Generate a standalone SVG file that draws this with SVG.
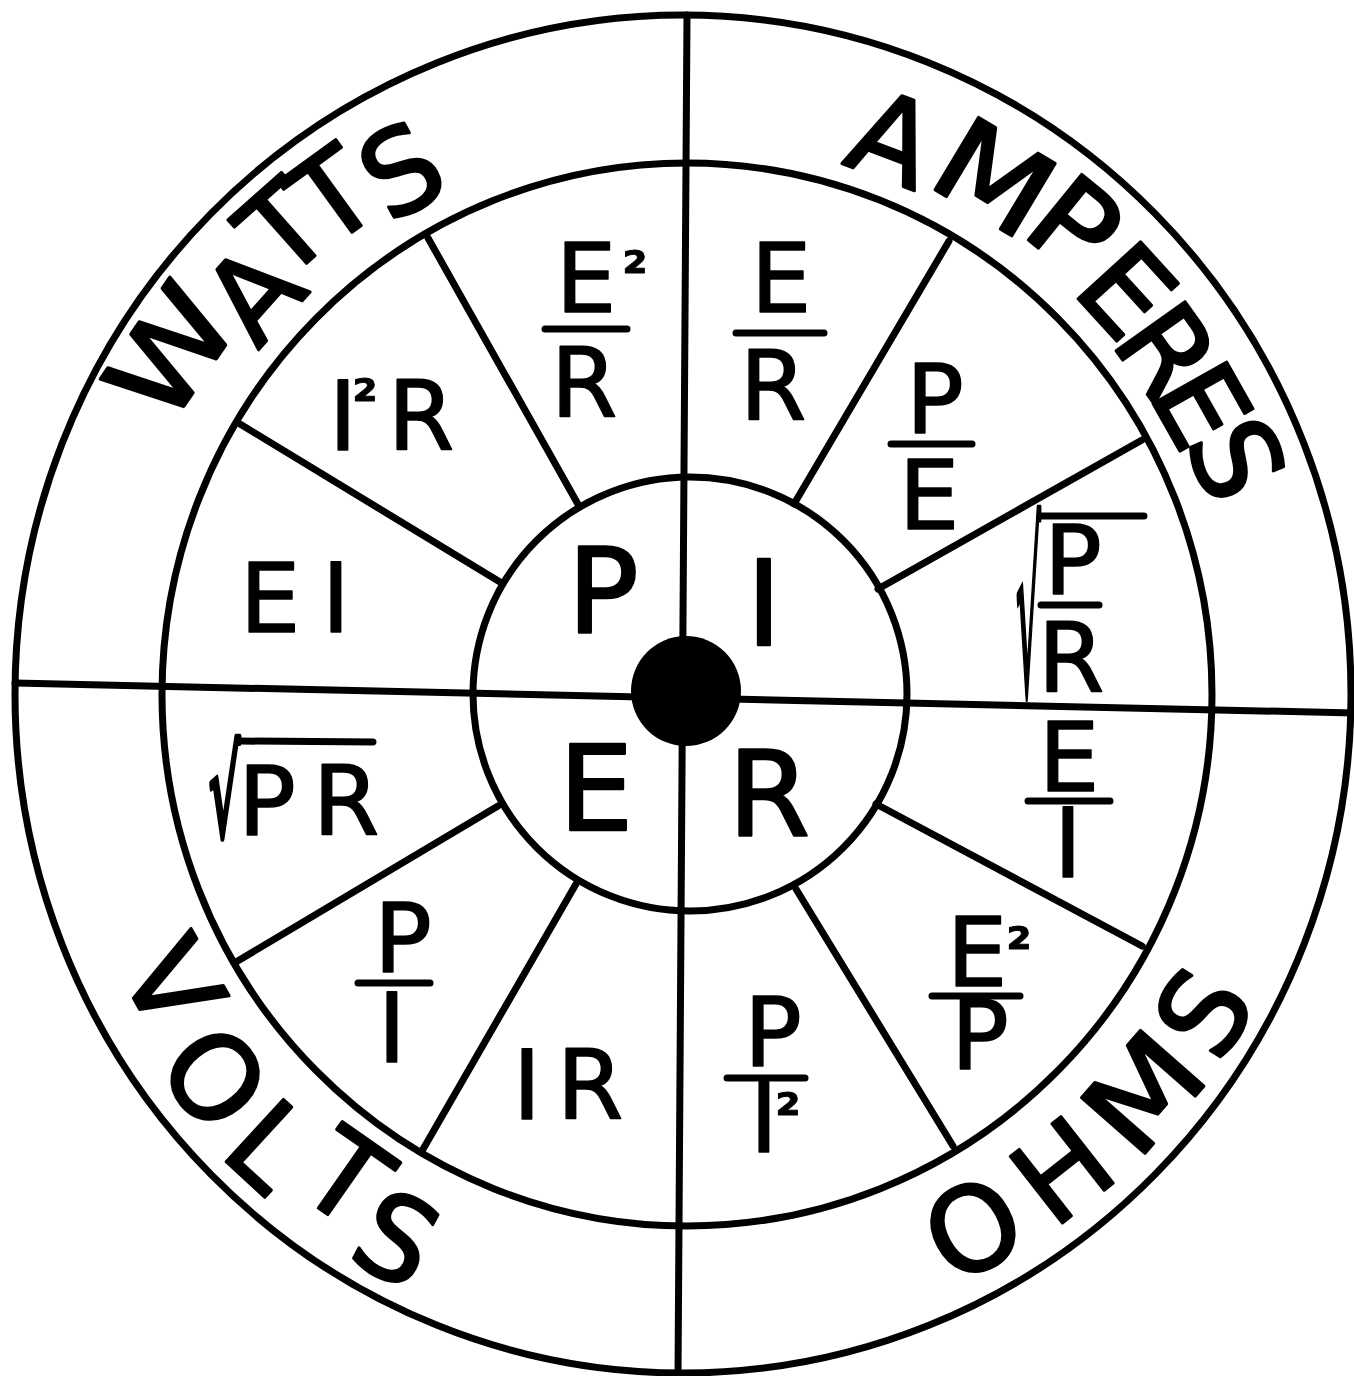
<svg xmlns="http://www.w3.org/2000/svg" width="1354" height="1376" viewBox="0 0 1354 1376">
<style>
.ln{fill:none;stroke:#000;stroke-width:7;stroke-linecap:round;stroke-linejoin:round}
.br{stroke:#000;stroke-width:7;stroke-linecap:round}
text{font-family:"DejaVu Sans","Liberation Sans",sans-serif;fill:#000;stroke:#000;stroke-linejoin:round}
.c{font-size:118px;text-anchor:middle;stroke-width:2.5px}
.m{font-size:96px;text-anchor:middle;stroke-width:1.5px}
.r{font-size:116px;text-anchor:middle;stroke-width:3px}
.s{font-size:58px;font-weight:bold;stroke-width:1px}
.rad{stroke-width:5px;vector-effect:non-scaling-stroke}
</style>
<rect width="1354" height="1376" fill="#fff"/>
<g id="rings">
<ellipse class="ln" cx="683" cy="694" rx="668" ry="679"/>
<ellipse class="ln" cx="687" cy="694.5" rx="525" ry="531.5"/>
<ellipse class="ln" cx="690" cy="694" rx="217" ry="217"/>
</g>
<g id="connectors">
<line class="ln" x1="687" y1="15" x2="678" y2="1376"/>
<line class="ln" x1="15" y1="683" x2="1354" y2="713"/>
<line class="ln" x1="428" y1="238" x2="579" y2="506"/>
<line class="ln" x1="240" y1="424" x2="500" y2="582"/>
<line class="ln" x1="949" y1="241" x2="794" y2="504"/>
<line class="ln" x1="1142" y1="440" x2="878" y2="589"/>
<line class="ln" x1="876" y1="804" x2="1142" y2="946"/>
<line class="ln" x1="796" y1="889" x2="953" y2="1146"/>
<line class="ln" x1="498" y1="806" x2="236" y2="962"/>
<line class="ln" x1="576" y1="884" x2="422" y2="1151"/>
</g>
<circle id="hub" cx="686" cy="691" r="55" fill="#000"/>
<g id="center-letters">
<text class="c" x="603" y="633" font-size="112">P</text>
<text class="c" x="764" y="645">I</text>
<text class="c" x="596" y="830">E</text>
<text class="c" x="769" y="835">R</text>
</g>
<g id="watts-formulas">
<text class="m" x="586" y="312">E<tspan class="s" x="635" y="292">²</tspan></text>
<line class="br" x1="545" y1="329" x2="627" y2="329"/>
<text class="m" x="584" y="417">R</text>
<text class="m" y="450"><tspan x="343">I</tspan><tspan class="s" x="365" y="420">²</tspan><tspan x="421" y="450">R</tspan></text>
<text class="m" y="632"><tspan x="270">E</tspan><tspan x="336">I</tspan></text>
</g>
<g id="amperes-formulas">
<text class="m" x="781" y="312">E</text>
<line class="br" x1="736" y1="333" x2="824" y2="333"/>
<text class="m" x="773" y="420">R</text>
<text class="m" x="935" y="433">P</text>
<line class="br" x1="891" y1="444" x2="972" y2="444"/>
<text class="m" x="929" y="529">E</text>
<text class="rad" transform="translate(1016,694) scale(0.17,1)" font-size="229">√</text>
<line class="br" x1="1040" y1="516" x2="1144" y2="516"/>
<text class="m" x="1073" y="594">P</text>
<line class="br" x1="1041" y1="605" x2="1099" y2="605"/>
<text class="m" x="1071" y="692">R</text>
</g>
<g id="volts-formulas">
<text class="rad" transform="translate(209,836) scale(0.4,1)" font-size="122">√</text>
<line class="br" x1="239" y1="741" x2="373" y2="742"/>
<text class="m" y="835"><tspan x="267">P</tspan><tspan x="346">R</tspan></text>
<text class="m" x="403" y="972">P</text>
<line class="br" x1="358" y1="983" x2="430" y2="983"/>
<text class="m" x="392" y="1062">I</text>
<text class="m" y="1119"><tspan x="527">I</tspan><tspan x="590">R</tspan></text>
</g>
<g id="ohms-formulas">
<text class="m" x="1069" y="791">E</text>
<line class="br" x1="1028" y1="801" x2="1110" y2="801"/>
<text class="m" x="1068" y="877">I</text>
<text class="m" x="977" y="986">E<tspan class="s" x="1019" y="968">²</tspan></text>
<line class="br" x1="932" y1="996" x2="1020" y2="996"/>
<text class="m" x="980" y="1069">P</text>
<text class="m" x="773" y="1066">P</text>
<line class="br" x1="727" y1="1078" x2="805" y2="1078"/>
<text class="m" x="764" y="1152">I<tspan class="s" x="788" y="1134">²</tspan></text>
</g>
<g id="watts">
<text class="r" transform="translate(170,352) rotate(-55.6) scale(1.15,1)" y="42">W</text>
<text class="r" transform="translate(253,293) rotate(-48.3)" y="42">A</text>
<text class="r" transform="translate(283,228) rotate(-41.5)" y="42">T</text>
<text class="r" transform="translate(332,195) rotate(-36)" y="42">T</text>
<text class="r" transform="translate(401,170) rotate(-28.8)" y="42">S</text>
</g>
<g id="amperes">
<text class="r" transform="translate(893,138) rotate(20.6)" y="42">A</text>
<text class="r" transform="translate(995,177) rotate(31) scale(1.15,1)" y="42">M</text>
<text class="r" transform="translate(1075,224) rotate(39.1) scale(1.1,1)" y="42">P</text>
<text class="r" transform="translate(1127,290) rotate(47.6) scale(1.05,1)" y="42">E</text>
<text class="r" transform="translate(1167,350) rotate(54.5)" y="42">R</text>
<text class="r" transform="translate(1202,405) rotate(60.6)" y="42">E</text>
<text class="r" transform="translate(1237,459) rotate(66.9)" y="42">S</text>
</g>
<g id="volts">
<text class="r" transform="translate(173,983) rotate(60.5)" y="42">V</text>
<text class="r" transform="translate(215,1077) rotate(50.8)" y="42">O</text>
<text class="r" transform="translate(270,1145) rotate(42.6)" y="42">L</text>
<text class="r" transform="translate(347,1177) rotate(35)" y="42">T</text>
<text class="r" transform="translate(397,1238) rotate(28)" y="42">S</text>
</g>
<g id="ohms">
<text class="r" transform="translate(973,1228) rotate(-28.1)" y="42">O</text>
<text class="r" transform="translate(1062,1170) rotate(-38.1)" y="42">H</text>
<text class="r" transform="translate(1143,1092) rotate(-48.7) scale(1.15,1)" y="42">M</text>
<text class="r" transform="translate(1203,1012) rotate(-58.2)" y="42">S</text>
</g>
</svg>
